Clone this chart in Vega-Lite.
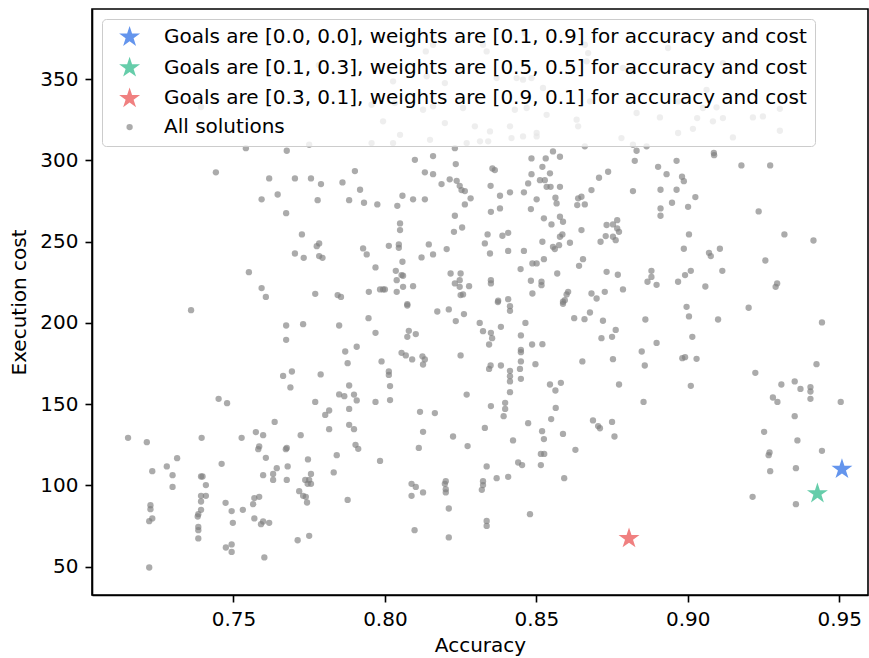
{
  "$schema": "https://vega.github.io/schema/vega-lite/v6.json",
  "width": 776,
  "height": 586,
  "autosize": {"type": "none"},
  "padding": {"left": 92, "top": 9, "right": 1, "bottom": 63},
  "background": "white",
  "config": {
    "view": {"stroke": "#000000", "strokeWidth": 1.6},
    "axis": {"labelFont": "DejaVu Sans", "labelFontSize": 20, "labelColor": "#000000", "titleFont": "DejaVu Sans", "titleFontSize": 20, "titleFontWeight": "normal", "titleColor": "#000000", "tickColor": "#000000", "tickSize": 7, "tickWidth": 1.6, "domainColor": "#000000", "domainWidth": 1.6, "labelPadding": 7, "grid": false, "labelFlush": false, "labelOverlap": false},
    "legend": {"labelFont": "DejaVu Sans", "labelFontSize": 20, "labelColor": "#000000", "labelLimit": 0, "fillColor": "rgba(255,255,255,0.8)", "strokeColor": "#cccccc", "cornerRadius": 4, "padding": 8, "symbolSize": 40, "symbolOffset": 9.6, "labelOffset": 24.4, "rowPadding": 8.7, "symbolStrokeWidth": 0}
  },
  "data": {"values": [
    {"a":0.7541,"c":307.5,"s":"All solutions"},{"a":0.7676,"c":305.9,"s":"All solutions"},{"a":0.7750,"c":309.6,"s":"All solutions"},{"a":0.7393,"c":332.8,"s":"All solutions"},{"a":0.7782,"c":358.6,"s":"All solutions"},
    {"a":0.8159,"c":371.1,"s":"All solutions"},{"a":0.8135,"c":367.0,"s":"All solutions"},{"a":0.8324,"c":371.1,"s":"All solutions"},{"a":0.8336,"c":367.0,"s":"All solutions"},{"a":0.8462,"c":378.3,"s":"All solutions"},{"a":0.8660,"c":371.1,"s":"All solutions"},{"a":0.8671,"c":366.0,"s":"All solutions"},{"a":0.8666,"c":360.9,"s":"All solutions"},{"a":0.8027,"c":348.6,"s":"All solutions"},{"a":0.8138,"c":351.7,"s":"All solutions"},{"a":0.8198,"c":347.5,"s":"All solutions"},{"a":0.8369,"c":350.6,"s":"All solutions"},{"a":0.8435,"c":350.6,"s":"All solutions"},{"a":0.8456,"c":349.6,"s":"All solutions"},{"a":0.8484,"c":350.6,"s":"All solutions"},{"a":0.8522,"c":344.5,"s":"All solutions"},{"a":0.7956,"c":334.2,"s":"All solutions"},{"a":0.8033,"c":335.2,"s":"All solutions"},{"a":0.8126,"c":331.1,"s":"All solutions"},{"a":0.8159,"c":333.2,"s":"All solutions"},{"a":0.8258,"c":332.2,"s":"All solutions"},{"a":0.8429,"c":331.1,"s":"All solutions"},{"a":0.8468,"c":332.2,"s":"All solutions"},{"a":0.8534,"c":328.0,"s":"All solutions"},{"a":0.8677,"c":336.3,"s":"All solutions"},{"a":0.7994,"c":324.0,"s":"All solutions"},{"a":0.8050,"c":315.7,"s":"All solutions"},{"a":0.8198,"c":322.9,"s":"All solutions"},{"a":0.8297,"c":320.9,"s":"All solutions"},{"a":0.8347,"c":317.8,"s":"All solutions"},{"a":0.8413,"c":320.9,"s":"All solutions"},{"a":0.8501,"c":316.8,"s":"All solutions"},{"a":0.8633,"c":325.0,"s":"All solutions"},{"a":0.8638,"c":320.9,"s":"All solutions"},{"a":0.7956,"c":310.6,"s":"All solutions"},{"a":0.8027,"c":310.6,"s":"All solutions"},{"a":0.8149,"c":312.6,"s":"All solutions"},{"a":0.8270,"c":310.6,"s":"All solutions"},{"a":0.8314,"c":311.7,"s":"All solutions"},{"a":0.8341,"c":311.7,"s":"All solutions"},{"a":0.8418,"c":313.7,"s":"All solutions"},{"a":0.8456,"c":314.7,"s":"All solutions"},{"a":0.8501,"c":314.7,"s":"All solutions"},{"a":0.8231,"c":307.5,"s":"All solutions"},{"a":0.8555,"c":305.5,"s":"All solutions"},{"a":0.8660,"c":308.6,"s":"All solutions"},
    {"a":0.8935,"c":369.1,"s":"All solutions"},{"a":0.8786,"c":356.8,"s":"All solutions"},{"a":0.8819,"c":354.7,"s":"All solutions"},{"a":0.9116,"c":359.8,"s":"All solutions"},{"a":0.9062,"c":343.4,"s":"All solutions"},{"a":0.8968,"c":336.3,"s":"All solutions"},{"a":0.9050,"c":332.2,"s":"All solutions"},{"a":0.9095,"c":332.6,"s":"All solutions"},{"a":0.8831,"c":329.1,"s":"All solutions"},{"a":0.8908,"c":326.4,"s":"All solutions"},{"a":0.9031,"c":326.0,"s":"All solutions"},{"a":0.9083,"c":324.0,"s":"All solutions"},{"a":0.9116,"c":326.0,"s":"All solutions"},{"a":0.9215,"c":326.4,"s":"All solutions"},{"a":0.9248,"c":327.0,"s":"All solutions"},{"a":0.9304,"c":331.7,"s":"All solutions"},{"a":0.8968,"c":316.8,"s":"All solutions"},{"a":0.9017,"c":319.4,"s":"All solutions"},{"a":0.9149,"c":314.1,"s":"All solutions"},{"a":0.9304,"c":318.2,"s":"All solutions"},{"a":0.8781,"c":313.7,"s":"All solutions"},{"a":0.8819,"c":309.6,"s":"All solutions"},{"a":0.8864,"c":308.6,"s":"All solutions"},{"a":0.8831,"c":305.9,"s":"All solutions"},{"a":0.9086,"c":304.5,"s":"All solutions"},
    {"a":0.7442,"c":292.6,"s":"All solutions"},{"a":0.7618,"c":288.9,"s":"All solutions"},{"a":0.7703,"c":288.9,"s":"All solutions"},{"a":0.7756,"c":288.9,"s":"All solutions"},{"a":0.7789,"c":285.4,"s":"All solutions"},{"a":0.7860,"c":286.4,"s":"All solutions"},{"a":0.7593,"c":276.0,"s":"All solutions"},{"a":0.7646,"c":279.0,"s":"All solutions"},{"a":0.7778,"c":275.5,"s":"All solutions"},{"a":0.7882,"c":275.5,"s":"All solutions"},{"a":0.7674,"c":267.5,"s":"All solutions"},{"a":0.7726,"c":254.4,"s":"All solutions"},{"a":0.7783,"c":248.9,"s":"All solutions"},{"a":0.7775,"c":247.2,"s":"All solutions"},{"a":0.7703,"c":242.7,"s":"All solutions"},{"a":0.7732,"c":240.0,"s":"All solutions"},{"a":0.7783,"c":241.1,"s":"All solutions"},{"a":0.7794,"c":240.0,"s":"All solutions"},{"a":0.7551,"c":231.2,"s":"All solutions"},{"a":0.7593,"c":221.4,"s":"All solutions"},{"a":0.7607,"c":216.0,"s":"All solutions"},{"a":0.7770,"c":217.9,"s":"All solutions"},{"a":0.7844,"c":217.1,"s":"All solutions"},{"a":0.7855,"c":216.0,"s":"All solutions"},
    {"a":0.8099,"c":300.3,"s":"All solutions"},{"a":0.8159,"c":302.6,"s":"All solutions"},{"a":0.8234,"c":297.7,"s":"All solutions"},{"a":0.7901,"c":293.4,"s":"All solutions"},{"a":0.8132,"c":292.6,"s":"All solutions"},{"a":0.8159,"c":291.5,"s":"All solutions"},{"a":0.8355,"c":295.0,"s":"All solutions"},{"a":0.8363,"c":294.0,"s":"All solutions"},{"a":0.8484,"c":301.2,"s":"All solutions"},{"a":0.8531,"c":301.2,"s":"All solutions"},{"a":0.8578,"c":302.2,"s":"All solutions"},{"a":0.8520,"c":296.0,"s":"All solutions"},{"a":0.8545,"c":292.0,"s":"All solutions"},{"a":0.8484,"c":291.5,"s":"All solutions"},{"a":0.8512,"c":287.8,"s":"All solutions"},{"a":0.8528,"c":287.8,"s":"All solutions"},{"a":0.8473,"c":285.8,"s":"All solutions"},{"a":0.8534,"c":283.7,"s":"All solutions"},{"a":0.8547,"c":283.7,"s":"All solutions"},{"a":0.8578,"c":283.7,"s":"All solutions"},{"a":0.8707,"c":289.3,"s":"All solutions"},{"a":0.8737,"c":293.0,"s":"All solutions"},{"a":0.8187,"c":285.4,"s":"All solutions"},{"a":0.8214,"c":288.3,"s":"All solutions"},{"a":0.8237,"c":287.4,"s":"All solutions"},{"a":0.8247,"c":284.3,"s":"All solutions"},{"a":0.8253,"c":281.7,"s":"All solutions"},{"a":0.8264,"c":281.1,"s":"All solutions"},{"a":0.8283,"c":276.6,"s":"All solutions"},{"a":0.8264,"c":272.9,"s":"All solutions"},{"a":0.8349,"c":284.3,"s":"All solutions"},{"a":0.8380,"c":278.2,"s":"All solutions"},{"a":0.8413,"c":280.3,"s":"All solutions"},{"a":0.8459,"c":280.3,"s":"All solutions"},{"a":0.7918,"c":281.9,"s":"All solutions"},{"a":0.7931,"c":273.9,"s":"All solutions"},{"a":0.7975,"c":272.9,"s":"All solutions"},{"a":0.8058,"c":278.2,"s":"All solutions"},{"a":0.8093,"c":276.0,"s":"All solutions"},{"a":0.8132,"c":276.0,"s":"All solutions"},{"a":0.8041,"c":272.0,"s":"All solutions"},{"a":0.8350,"c":268.3,"s":"All solutions"},{"a":0.8380,"c":270.4,"s":"All solutions"},{"a":0.8482,"c":270.0,"s":"All solutions"},{"a":0.8501,"c":276.0,"s":"All solutions"},{"a":0.8563,"c":277.0,"s":"All solutions"},{"a":0.8567,"c":273.5,"s":"All solutions"},{"a":0.8638,"c":276.6,"s":"All solutions"},{"a":0.8649,"c":277.6,"s":"All solutions"},{"a":0.8635,"c":272.5,"s":"All solutions"},{"a":0.8660,"c":272.9,"s":"All solutions"},{"a":0.8682,"c":281.7,"s":"All solutions"},{"a":0.8525,"c":264.3,"s":"All solutions"},{"a":0.8550,"c":260.6,"s":"All solutions"},{"a":0.8578,"c":265.3,"s":"All solutions"},{"a":0.8588,"c":262.2,"s":"All solutions"},{"a":0.8649,"c":257.1,"s":"All solutions"},{"a":0.8732,"c":260.2,"s":"All solutions"},{"a":0.8231,"c":265.9,"s":"All solutions"},{"a":0.8050,"c":261.2,"s":"All solutions"},{"a":0.8050,"c":257.1,"s":"All solutions"},{"a":0.8255,"c":258.7,"s":"All solutions"},{"a":0.8228,"c":256.0,"s":"All solutions"},{"a":0.8339,"c":254.4,"s":"All solutions"},{"a":0.8407,"c":255.4,"s":"All solutions"},{"a":0.8388,"c":253.6,"s":"All solutions"},{"a":0.8586,"c":254.4,"s":"All solutions"},{"a":0.8578,"c":253.0,"s":"All solutions"},{"a":0.8729,"c":253.4,"s":"All solutions"},{"a":0.7928,"c":245.8,"s":"All solutions"},{"a":0.7940,"c":242.1,"s":"All solutions"},{"a":0.8013,"c":247.4,"s":"All solutions"},{"a":0.8046,"c":248.3,"s":"All solutions"},{"a":0.8046,"c":246.2,"s":"All solutions"},{"a":0.8145,"c":248.3,"s":"All solutions"},{"a":0.8159,"c":242.1,"s":"All solutions"},{"a":0.8121,"c":240.3,"s":"All solutions"},{"a":0.8204,"c":245.4,"s":"All solutions"},{"a":0.8330,"c":248.9,"s":"All solutions"},{"a":0.8347,"c":242.7,"s":"All solutions"},{"a":0.8407,"c":244.3,"s":"All solutions"},{"a":0.8459,"c":244.3,"s":"All solutions"},{"a":0.8520,"c":249.9,"s":"All solutions"},{"a":0.8555,"c":246.8,"s":"All solutions"},{"a":0.8561,"c":245.4,"s":"All solutions"},{"a":0.8575,"c":247.8,"s":"All solutions"},{"a":0.8611,"c":249.3,"s":"All solutions"},{"a":0.8712,"c":249.9,"s":"All solutions"},{"a":0.7969,"c":234.1,"s":"All solutions"},{"a":0.8058,"c":237.6,"s":"All solutions"},{"a":0.8036,"c":232.0,"s":"All solutions"},{"a":0.8060,"c":229.0,"s":"All solutions"},{"a":0.8055,"c":229.4,"s":"All solutions"},{"a":0.8039,"c":226.3,"s":"All solutions"},{"a":0.8093,"c":222.6,"s":"All solutions"},{"a":0.8060,"c":222.2,"s":"All solutions"},{"a":0.8217,"c":230.4,"s":"All solutions"},{"a":0.8250,"c":230.4,"s":"All solutions"},{"a":0.8247,"c":226.3,"s":"All solutions"},{"a":0.8231,"c":224.3,"s":"All solutions"},{"a":0.8247,"c":222.2,"s":"All solutions"},{"a":0.8258,"c":217.5,"s":"All solutions"},{"a":0.8250,"c":217.1,"s":"All solutions"},{"a":0.8278,"c":222.6,"s":"All solutions"},{"a":0.8350,"c":226.3,"s":"All solutions"},{"a":0.8350,"c":224.3,"s":"All solutions"},{"a":0.8448,"c":233.1,"s":"All solutions"},{"a":0.8487,"c":236.6,"s":"All solutions"},{"a":0.8501,"c":236.6,"s":"All solutions"},{"a":0.8525,"c":239.2,"s":"All solutions"},{"a":0.8654,"c":239.2,"s":"All solutions"},{"a":0.8641,"c":235.1,"s":"All solutions"},{"a":0.8569,"c":230.4,"s":"All solutions"},{"a":0.8732,"c":231.4,"s":"All solutions"},{"a":0.8482,"c":225.9,"s":"All solutions"},{"a":0.8517,"c":225.3,"s":"All solutions"},{"a":0.8517,"c":223.2,"s":"All solutions"},{"a":0.8487,"c":218.1,"s":"All solutions"},{"a":0.7947,"c":219.1,"s":"All solutions"},{"a":0.7984,"c":220.6,"s":"All solutions"},{"a":0.7994,"c":220.6,"s":"All solutions"},{"a":0.8000,"c":220.6,"s":"All solutions"},{"a":0.8039,"c":219.1,"s":"All solutions"},{"a":0.8374,"c":213.6,"s":"All solutions"},{"a":0.8407,"c":214.6,"s":"All solutions"},{"a":0.8074,"c":211.5,"s":"All solutions"},{"a":0.8588,"c":213.0,"s":"All solutions"},{"a":0.8600,"c":217.5,"s":"All solutions"},{"a":0.8605,"c":219.1,"s":"All solutions"},{"a":0.8594,"c":214.0,"s":"All solutions"},{"a":0.8682,"c":218.1,"s":"All solutions"},{"a":0.8699,"c":215.0,"s":"All solutions"},{"a":0.8726,"c":219.1,"s":"All solutions"},
    {"a":0.8825,"c":299.7,"s":"All solutions"},{"a":0.8963,"c":299.7,"s":"All solutions"},{"a":0.8902,"c":296.0,"s":"All solutions"},{"a":0.8930,"c":291.5,"s":"All solutions"},{"a":0.8981,"c":289.9,"s":"All solutions"},{"a":0.8987,"c":287.2,"s":"All solutions"},{"a":0.9087,"c":303.2,"s":"All solutions"},{"a":0.9177,"c":296.9,"s":"All solutions"},{"a":0.9272,"c":296.9,"s":"All solutions"},{"a":0.8819,"c":281.1,"s":"All solutions"},{"a":0.8910,"c":281.9,"s":"All solutions"},{"a":0.8963,"c":281.9,"s":"All solutions"},{"a":0.9025,"c":277.4,"s":"All solutions"},{"a":0.8948,"c":273.9,"s":"All solutions"},{"a":0.9001,"c":271.4,"s":"All solutions"},{"a":0.8910,"c":270.4,"s":"All solutions"},{"a":0.8910,"c":265.9,"s":"All solutions"},{"a":0.9234,"c":268.6,"s":"All solutions"},{"a":0.8767,"c":263.2,"s":"All solutions"},{"a":0.8753,"c":260.6,"s":"All solutions"},{"a":0.8767,"c":258.1,"s":"All solutions"},{"a":0.8773,"c":256.0,"s":"All solutions"},{"a":0.8753,"c":253.0,"s":"All solutions"},{"a":0.8762,"c":250.9,"s":"All solutions"},{"a":0.9004,"c":254.4,"s":"All solutions"},{"a":0.9319,"c":254.4,"s":"All solutions"},{"a":0.9415,"c":250.7,"s":"All solutions"},{"a":0.8987,"c":245.6,"s":"All solutions"},{"a":0.9070,"c":243.1,"s":"All solutions"},{"a":0.9076,"c":241.1,"s":"All solutions"},{"a":0.9106,"c":245.6,"s":"All solutions"},{"a":0.9256,"c":238.4,"s":"All solutions"},{"a":0.8880,"c":232.0,"s":"All solutions"},{"a":0.8880,"c":228.3,"s":"All solutions"},{"a":0.8867,"c":225.3,"s":"All solutions"},{"a":0.8897,"c":223.4,"s":"All solutions"},{"a":0.9010,"c":232.0,"s":"All solutions"},{"a":0.8991,"c":229.4,"s":"All solutions"},{"a":0.9114,"c":232.0,"s":"All solutions"},{"a":0.8968,"c":225.3,"s":"All solutions"},{"a":0.9058,"c":222.4,"s":"All solutions"},{"a":0.8769,"c":229.6,"s":"All solutions"},{"a":0.8786,"c":220.6,"s":"All solutions"},{"a":0.9295,"c":224.3,"s":"All solutions"},{"a":0.9290,"c":222.2,"s":"All solutions"},
    {"a":0.7360,"c":207.8,"s":"All solutions"},{"a":0.7674,"c":198.4,"s":"All solutions"},{"a":0.7730,"c":199.2,"s":"All solutions"},{"a":0.7849,"c":198.4,"s":"All solutions"},{"a":0.7674,"c":189.6,"s":"All solutions"},{"a":0.7869,"c":182.4,"s":"All solutions"},{"a":0.7877,"c":175.2,"s":"All solutions"},{"a":0.7693,"c":170.1,"s":"All solutions"},{"a":0.7664,"c":167.4,"s":"All solutions"},{"a":0.7788,"c":168.3,"s":"All solutions"},{"a":0.7688,"c":160.3,"s":"All solutions"},{"a":0.7882,"c":161.5,"s":"All solutions"},{"a":0.7849,"c":156.0,"s":"All solutions"},{"a":0.7866,"c":154.9,"s":"All solutions"},{"a":0.7451,"c":153.3,"s":"All solutions"},{"a":0.7479,"c":150.6,"s":"All solutions"},{"a":0.7770,"c":151.4,"s":"All solutions"},{"a":0.7816,"c":146.1,"s":"All solutions"},{"a":0.7803,"c":143.4,"s":"All solutions"},{"a":0.7882,"c":147.1,"s":"All solutions"},{"a":0.7636,"c":139.1,"s":"All solutions"},{"a":0.7882,"c":137.3,"s":"All solutions"},{"a":0.7816,"c":134.6,"s":"All solutions"},{"a":0.7574,"c":132.8,"s":"All solutions"},{"a":0.7598,"c":130.9,"s":"All solutions"},{"a":0.7722,"c":130.9,"s":"All solutions"},{"a":0.7152,"c":129.3,"s":"All solutions"},{"a":0.7214,"c":126.6,"s":"All solutions"},{"a":0.7395,"c":129.3,"s":"All solutions"},{"a":0.7527,"c":129.3,"s":"All solutions"},{"a":0.7585,"c":124.0,"s":"All solutions"},{"a":0.7676,"c":123.1,"s":"All solutions"},
    {"a":0.8074,"c":210.7,"s":"All solutions"},{"a":0.8173,"c":207.0,"s":"All solutions"},{"a":0.8211,"c":208.3,"s":"All solutions"},{"a":0.8261,"c":205.4,"s":"All solutions"},{"a":0.8234,"c":201.1,"s":"All solutions"},{"a":0.8373,"c":212.8,"s":"All solutions"},{"a":0.8413,"c":210.3,"s":"All solutions"},{"a":0.8413,"c":207.4,"s":"All solutions"},{"a":0.8588,"c":211.7,"s":"All solutions"},{"a":0.7946,"c":202.9,"s":"All solutions"},{"a":0.7969,"c":193.9,"s":"All solutions"},{"a":0.8079,"c":195.1,"s":"All solutions"},{"a":0.8074,"c":191.4,"s":"All solutions"},{"a":0.8102,"c":193.1,"s":"All solutions"},{"a":0.8313,"c":200.0,"s":"All solutions"},{"a":0.8324,"c":194.9,"s":"All solutions"},{"a":0.8350,"c":193.9,"s":"All solutions"},{"a":0.8354,"c":190.6,"s":"All solutions"},{"a":0.8344,"c":186.7,"s":"All solutions"},{"a":0.8383,"c":197.6,"s":"All solutions"},{"a":0.8464,"c":200.0,"s":"All solutions"},{"a":0.8449,"c":192.3,"s":"All solutions"},{"a":0.8486,"c":186.7,"s":"All solutions"},{"a":0.8520,"c":186.9,"s":"All solutions"},{"a":0.8449,"c":183.4,"s":"All solutions"},{"a":0.8449,"c":182.0,"s":"All solutions"},{"a":0.8449,"c":176.3,"s":"All solutions"},{"a":0.8625,"c":202.9,"s":"All solutions"},{"a":0.8659,"c":202.3,"s":"All solutions"},{"a":0.8677,"c":206.4,"s":"All solutions"},{"a":0.8720,"c":201.3,"s":"All solutions"},{"a":0.8715,"c":190.6,"s":"All solutions"},{"a":0.7907,"c":185.3,"s":"All solutions"},{"a":0.8055,"c":181.6,"s":"All solutions"},{"a":0.8069,"c":180.0,"s":"All solutions"},{"a":0.8090,"c":177.5,"s":"All solutions"},{"a":0.8124,"c":179.4,"s":"All solutions"},{"a":0.8132,"c":177.5,"s":"All solutions"},{"a":0.8126,"c":174.4,"s":"All solutions"},{"a":0.8250,"c":180.0,"s":"All solutions"},{"a":0.7989,"c":176.3,"s":"All solutions"},{"a":0.8349,"c":173.8,"s":"All solutions"},{"a":0.8344,"c":171.7,"s":"All solutions"},{"a":0.8383,"c":173.8,"s":"All solutions"},{"a":0.8446,"c":171.7,"s":"All solutions"},{"a":0.8497,"c":174.6,"s":"All solutions"},{"a":0.8413,"c":170.5,"s":"All solutions"},{"a":0.8413,"c":167.2,"s":"All solutions"},{"a":0.8413,"c":164.0,"s":"All solutions"},{"a":0.8413,"c":157.4,"s":"All solutions"},{"a":0.8449,"c":165.6,"s":"All solutions"},{"a":0.8652,"c":176.3,"s":"All solutions"},{"a":0.8013,"c":170.1,"s":"All solutions"},{"a":0.8013,"c":168.0,"s":"All solutions"},{"a":0.8017,"c":161.1,"s":"All solutions"},{"a":0.8545,"c":162.1,"s":"All solutions"},{"a":0.8581,"c":163.1,"s":"All solutions"},{"a":0.8563,"c":158.4,"s":"All solutions"},{"a":0.7898,"c":155.9,"s":"All solutions"},{"a":0.7907,"c":152.3,"s":"All solutions"},{"a":0.7969,"c":151.4,"s":"All solutions"},{"a":0.8017,"c":152.5,"s":"All solutions"},{"a":0.8270,"c":155.9,"s":"All solutions"},{"a":0.8116,"c":145.3,"s":"All solutions"},{"a":0.8165,"c":144.5,"s":"All solutions"},{"a":0.8350,"c":148.8,"s":"All solutions"},{"a":0.8397,"c":150.8,"s":"All solutions"},{"a":0.8397,"c":147.1,"s":"All solutions"},{"a":0.8392,"c":142.6,"s":"All solutions"},{"a":0.8564,"c":147.7,"s":"All solutions"},{"a":0.8549,"c":140.8,"s":"All solutions"},{"a":0.8473,"c":138.3,"s":"All solutions"},{"a":0.8687,"c":140.0,"s":"All solutions"},{"a":0.8704,"c":136.5,"s":"All solutions"},{"a":0.8710,"c":135.2,"s":"All solutions"},{"a":0.7898,"c":134.6,"s":"All solutions"},{"a":0.8330,"c":135.4,"s":"All solutions"},{"a":0.8126,"c":133.0,"s":"All solutions"},{"a":0.8225,"c":130.1,"s":"All solutions"},{"a":0.8519,"c":133.4,"s":"All solutions"},{"a":0.8525,"c":128.5,"s":"All solutions"},{"a":0.8588,"c":131.7,"s":"All solutions"},{"a":0.8423,"c":127.7,"s":"All solutions"},{"a":0.7903,"c":125.0,"s":"All solutions"},{"a":0.7912,"c":122.5,"s":"All solutions"},{"a":0.8112,"c":123.1,"s":"All solutions"},{"a":0.8273,"c":124.2,"s":"All solutions"},{"a":0.8629,"c":121.9,"s":"All solutions"},
    {"a":0.8996,"c":209.9,"s":"All solutions"},{"a":0.9004,"c":204.0,"s":"All solutions"},{"a":0.8860,"c":202.1,"s":"All solutions"},{"a":0.9100,"c":202.1,"s":"All solutions"},{"a":0.9201,"c":209.3,"s":"All solutions"},{"a":0.9443,"c":200.3,"s":"All solutions"},{"a":0.8762,"c":195.7,"s":"All solutions"},{"a":0.8750,"c":191.4,"s":"All solutions"},{"a":0.9015,"c":191.4,"s":"All solutions"},{"a":0.8897,"c":187.7,"s":"All solutions"},{"a":0.8848,"c":182.4,"s":"All solutions"},{"a":0.8753,"c":177.7,"s":"All solutions"},{"a":0.8982,"c":178.3,"s":"All solutions"},{"a":0.8991,"c":178.9,"s":"All solutions"},{"a":0.9029,"c":177.9,"s":"All solutions"},{"a":0.8858,"c":173.8,"s":"All solutions"},{"a":0.9425,"c":174.6,"s":"All solutions"},{"a":0.9223,"c":169.3,"s":"All solutions"},{"a":0.8773,"c":162.1,"s":"All solutions"},{"a":0.9010,"c":161.3,"s":"All solutions"},{"a":0.9309,"c":162.1,"s":"All solutions"},{"a":0.9353,"c":164.0,"s":"All solutions"},{"a":0.9372,"c":159.4,"s":"All solutions"},{"a":0.9405,"c":160.5,"s":"All solutions"},{"a":0.9405,"c":157.8,"s":"All solutions"},{"a":0.9405,"c":153.3,"s":"All solutions"},{"a":0.9281,"c":154.1,"s":"All solutions"},{"a":0.9296,"c":151.4,"s":"All solutions"},{"a":0.9505,"c":151.4,"s":"All solutions"},{"a":0.8854,"c":151.4,"s":"All solutions"},{"a":0.9353,"c":142.6,"s":"All solutions"},{"a":0.8750,"c":139.1,"s":"All solutions"},{"a":0.8758,"c":130.1,"s":"All solutions"},{"a":0.9252,"c":133.0,"s":"All solutions"},{"a":0.9362,"c":127.7,"s":"All solutions"},
    {"a":0.7314,"c":116.8,"s":"All solutions"},{"a":0.7280,"c":111.7,"s":"All solutions"},{"a":0.7232,"c":108.8,"s":"All solutions"},{"a":0.7299,"c":106.3,"s":"All solutions"},{"a":0.7299,"c":99.1,"s":"All solutions"},{"a":0.7393,"c":105.5,"s":"All solutions"},{"a":0.7398,"c":105.5,"s":"All solutions"},{"a":0.7409,"c":100.2,"s":"All solutions"},{"a":0.7393,"c":93.6,"s":"All solutions"},{"a":0.7409,"c":93.6,"s":"All solutions"},{"a":0.7393,"c":90.1,"s":"All solutions"},{"a":0.7226,"c":87.8,"s":"All solutions"},{"a":0.7226,"c":85.4,"s":"All solutions"},{"a":0.7222,"c":78.0,"s":"All solutions"},{"a":0.7232,"c":79.7,"s":"All solutions"},{"a":0.7393,"c":85.0,"s":"All solutions"},{"a":0.7384,"c":82.3,"s":"All solutions"},{"a":0.7382,"c":80.9,"s":"All solutions"},{"a":0.7384,"c":74.5,"s":"All solutions"},{"a":0.7384,"c":72.5,"s":"All solutions"},{"a":0.7384,"c":67.4,"s":"All solutions"},{"a":0.7461,"c":113.3,"s":"All solutions"},{"a":0.7474,"c":89.3,"s":"All solutions"},{"a":0.7494,"c":84.2,"s":"All solutions"},{"a":0.7498,"c":77.0,"s":"All solutions"},{"a":0.7531,"c":85.0,"s":"All solutions"},{"a":0.7569,"c":92.2,"s":"All solutions"},{"a":0.7585,"c":93.0,"s":"All solutions"},{"a":0.7565,"c":88.5,"s":"All solutions"},{"a":0.7569,"c":79.7,"s":"All solutions"},{"a":0.7598,"c":77.8,"s":"All solutions"},{"a":0.7591,"c":76.2,"s":"All solutions"},{"a":0.7618,"c":77.0,"s":"All solutions"},{"a":0.7475,"c":61.8,"s":"All solutions"},{"a":0.7494,"c":63.7,"s":"All solutions"},{"a":0.7494,"c":59.1,"s":"All solutions"},{"a":0.7602,"c":55.7,"s":"All solutions"},{"a":0.7222,"c":49.5,"s":"All solutions"},{"a":0.7582,"c":122.3,"s":"All solutions"},{"a":0.7607,"c":117.0,"s":"All solutions"},{"a":0.7673,"c":122.3,"s":"All solutions"},{"a":0.7598,"c":106.3,"s":"All solutions"},{"a":0.7631,"c":107.1,"s":"All solutions"},{"a":0.7631,"c":103.4,"s":"All solutions"},{"a":0.7643,"c":110.6,"s":"All solutions"},{"a":0.7679,"c":111.7,"s":"All solutions"},{"a":0.7676,"c":103.4,"s":"All solutions"},{"a":0.7746,"c":116.0,"s":"All solutions"},{"a":0.7756,"c":107.1,"s":"All solutions"},{"a":0.7737,"c":103.4,"s":"All solutions"},{"a":0.7750,"c":103.4,"s":"All solutions"},{"a":0.7756,"c":101.0,"s":"All solutions"},{"a":0.7745,"c":101.0,"s":"All solutions"},{"a":0.7717,"c":96.5,"s":"All solutions"},{"a":0.7730,"c":93.6,"s":"All solutions"},{"a":0.7739,"c":93.0,"s":"All solutions"},{"a":0.7743,"c":89.5,"s":"All solutions"},{"a":0.7712,"c":66.3,"s":"All solutions"},{"a":0.7750,"c":69.0,"s":"All solutions"},{"a":0.7831,"c":108.0,"s":"All solutions"},{"a":0.7841,"c":118.6,"s":"All solutions"},{"a":0.7877,"c":91.1,"s":"All solutions"},
    {"a":0.7984,"c":115.1,"s":"All solutions"},{"a":0.8336,"c":111.7,"s":"All solutions"},{"a":0.8088,"c":101.0,"s":"All solutions"},{"a":0.8102,"c":99.1,"s":"All solutions"},{"a":0.8126,"c":95.7,"s":"All solutions"},{"a":0.8088,"c":93.6,"s":"All solutions"},{"a":0.8201,"c":102.6,"s":"All solutions"},{"a":0.8198,"c":101.0,"s":"All solutions"},{"a":0.8201,"c":97.7,"s":"All solutions"},{"a":0.8201,"c":95.7,"s":"All solutions"},{"a":0.8211,"c":85.8,"s":"All solutions"},{"a":0.8098,"c":72.5,"s":"All solutions"},{"a":0.8211,"c":68.0,"s":"All solutions"},{"a":0.8324,"c":102.6,"s":"All solutions"},{"a":0.8324,"c":100.2,"s":"All solutions"},{"a":0.8320,"c":97.3,"s":"All solutions"},{"a":0.8369,"c":104.5,"s":"All solutions"},{"a":0.8407,"c":105.3,"s":"All solutions"},{"a":0.8440,"c":114.1,"s":"All solutions"},{"a":0.8453,"c":112.5,"s":"All solutions"},{"a":0.8336,"c":78.2,"s":"All solutions"},{"a":0.8336,"c":75.1,"s":"All solutions"},{"a":0.8479,"c":82.3,"s":"All solutions"},{"a":0.8515,"c":119.4,"s":"All solutions"},{"a":0.8526,"c":119.4,"s":"All solutions"},{"a":0.8515,"c":112.5,"s":"All solutions"},{"a":0.8592,"c":104.5,"s":"All solutions"},
    {"a":0.9270,"c":120.3,"s":"All solutions"},{"a":0.9267,"c":118.6,"s":"All solutions"},{"a":0.9443,"c":121.3,"s":"All solutions"},{"a":0.9272,"c":108.8,"s":"All solutions"},{"a":0.9357,"c":110.6,"s":"All solutions"},{"a":0.9214,"c":93.0,"s":"All solutions"},{"a":0.9357,"c":88.5,"s":"All solutions"},
    {"a":0.9509,"c":110.0,"s":"Goals are [0.0, 0.0], weights are [0.1, 0.9] for accuracy and cost"},
    {"a":0.9428,"c":95.0,"s":"Goals are [0.1, 0.3], weights are [0.5, 0.5] for accuracy and cost"},
    {"a":0.8806,"c":67.4,"s":"Goals are [0.3, 0.1], weights are [0.9, 0.1] for accuracy and cost"}
  ]},
  "mark": {"type": "point", "filled": true, "strokeWidth": 0, "opacity": 1, "size": 40},
  "encoding": {
    "x": {"field": "a", "type": "quantitative", "title": "Accuracy", "scale": {"domain": [0.7033, 0.9595], "zero": false, "nice": false}, "axis": {"values": [0.75, 0.8, 0.85, 0.9, 0.95], "format": ".2f", "titlePadding": 6}},
    "y": {"field": "c", "type": "quantitative", "title": "Execution cost", "scale": {"domain": [32.6, 393.1], "zero": false, "nice": false}, "axis": {"values": [50, 100, 150, 200, 250, 300, 350], "titlePadding": 10}},
    "color": {"field": "s", "type": "nominal", "title": null, "scale": {"domain": ["Goals are [0.0, 0.0], weights are [0.1, 0.9] for accuracy and cost", "Goals are [0.1, 0.3], weights are [0.5, 0.5] for accuracy and cost", "Goals are [0.3, 0.1], weights are [0.9, 0.1] for accuracy and cost", "All solutions"], "range": ["#6495ED", "#66CDAA", "#F08080", "rgba(128,128,128,0.66)"]}, "legend": {"orient": "none", "legendX": 10, "legendY": 10}},
    "shape": {"field": "s", "type": "nominal", "title": null, "scale": {"domain": ["Goals are [0.0, 0.0], weights are [0.1, 0.9] for accuracy and cost", "Goals are [0.1, 0.3], weights are [0.5, 0.5] for accuracy and cost", "Goals are [0.3, 0.1], weights are [0.9, 0.1] for accuracy and cost", "All solutions"], "range": ["M0,-3.479L0.781,-1.075L3.309,-1.075L1.263,0.411L2.046,2.815L0,1.329L-2.046,2.815L-1.263,0.411L-3.309,-1.075L-0.781,-1.075Z", "M0,-3.479L0.781,-1.075L3.309,-1.075L1.263,0.411L2.046,2.815L0,1.329L-2.046,2.815L-1.263,0.411L-3.309,-1.075L-0.781,-1.075Z", "M0,-3.479L0.781,-1.075L3.309,-1.075L1.263,0.411L2.046,2.815L0,1.329L-2.046,2.815L-1.263,0.411L-3.309,-1.075L-0.781,-1.075Z", "circle"]}}
  }
}
